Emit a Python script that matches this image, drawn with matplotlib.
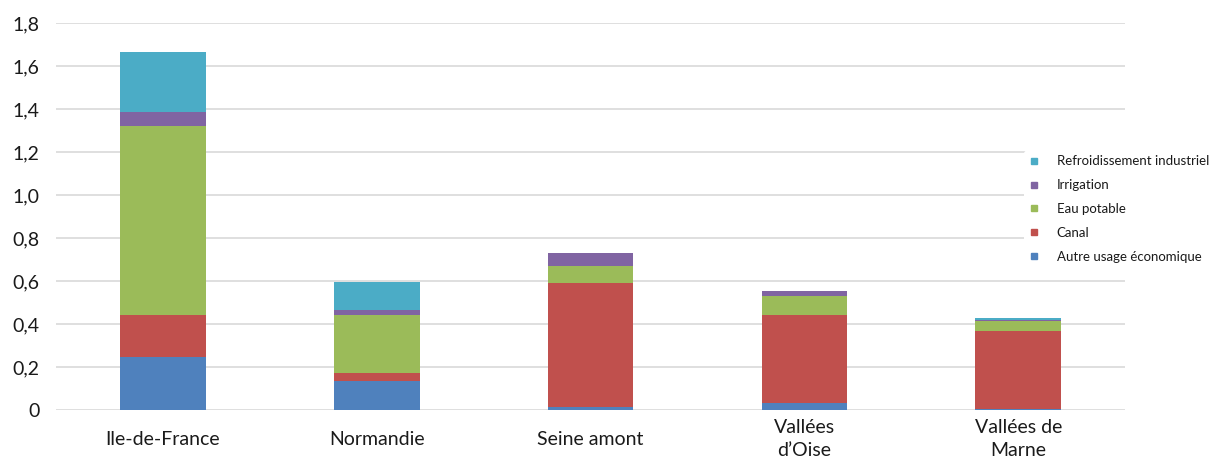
import matplotlib.pyplot as plt
from matplotlib.lines import Line2D

plt.rcParams['font.family'] = ['Lato', 'DejaVu Sans']

# Data
regions = ['Ile-de-France', 'Normandie', 'Seine amont', 'Vallées\nd\u2019Oise', 'Vallées de\nMarne']
autre = [0.245, 0.136, 0.013, 0.034, 0.006]
canal = [0.195, 0.035, 0.576, 0.408, 0.363]
eau_potable = [0.880, 0.271, 0.082, 0.088, 0.046]
irrigation = [0.067, 0.023, 0.061, 0.023, 0.005]
refroidissement = [0.278, 0.129, 0.0, 0.0, 0.008]

series = [
    ('Autre usage économique', autre, '#4F81BD'),
    ('Canal', canal, '#C0504D'),
    ('Eau potable', eau_potable, '#9BBB59'),
    ('Irrigation', irrigation, '#8064A2'),
    ('Refroidissement industriel', refroidissement, '#4BACC6'),
]

fig = plt.figure(figsize=(12.19, 4.63), dpi=100)
ax = fig.add_axes([0.046, 0.1145, 0.877, 0.8355])

x = list(range(len(regions)))
bottom = [0.0] * len(regions)
handles = []
for name, vals, col in series:
    ax.bar(x, vals, width=0.4, bottom=bottom, color=col, zorder=3)
    bottom = [b + v for b, v in zip(bottom, vals)]
    handles.append(Line2D([], [], marker='s', linestyle='none', markersize=5,
                          markerfacecolor=col, markeredgecolor=col, label=name))

ax.set_xlim(-0.5, len(regions) - 0.5)
ax.set_ylim(0, 1.8)
yt = [i * 0.2 for i in range(10)]
ax.set_yticks(yt)
ax.set_yticklabels(['0'] + [f'{v:.1f}'.replace('.', ',') for v in yt[1:]])
ax.set_xticks(x)
ax.set_xticklabels(regions, linespacing=1.4)
for lab in ax.get_xticklabels():
    lab.set_va('center')

ax.tick_params(axis='y', length=0, pad=12, labelsize=14, labelcolor='#1a1a1a')
ax.tick_params(axis='x', length=0, pad=21, labelsize=14, labelcolor='#1a1a1a')
for s in ax.spines.values():
    s.set_visible(False)
ax.grid(axis='y', color='#D9D9D9', linewidth=1.2, zorder=0)
ax.set_axisbelow(True)

leg = fig.legend(handles=handles[::-1], loc='center left',
                 bbox_to_anchor=(1017 / 1219, 1 - 209 / 463),
                 frameon=True, facecolor='white', edgecolor='none', framealpha=1,
                 fontsize=9.5, handlelength=1.0, handletextpad=1.2, labelspacing=0.9,
                 borderpad=0.3)
for t in leg.get_texts():
    t.set_color('#1a1a1a')

fig.savefig('out.png', dpi=100)
